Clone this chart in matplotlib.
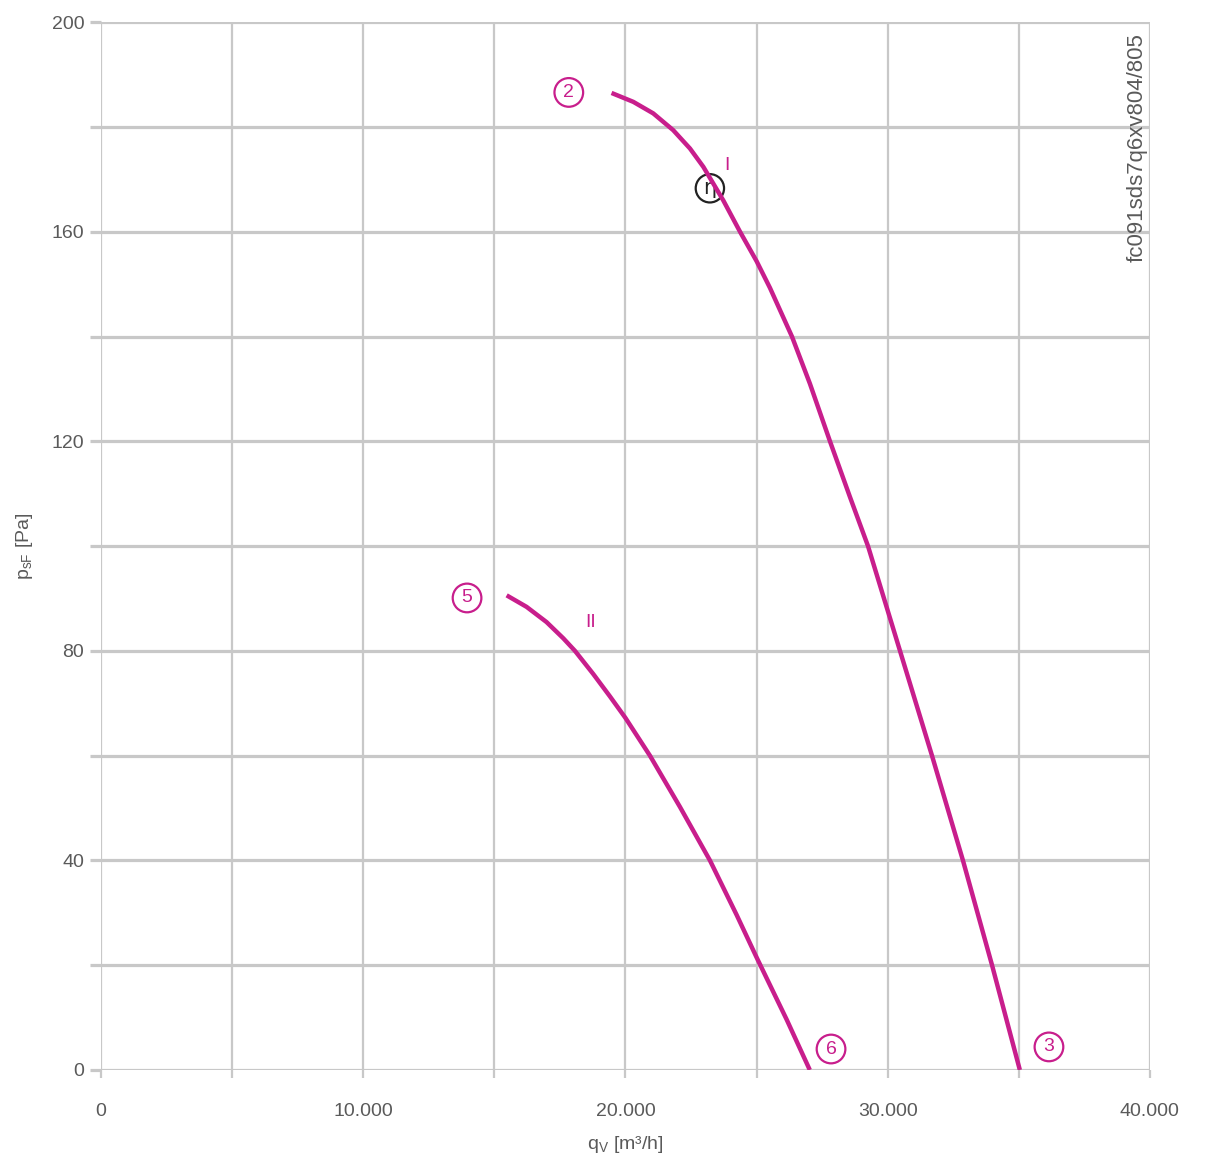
import matplotlib.pyplot as plt

plt.rcParams['font.family'] = ['Liberation Sans', 'DejaVu Sans']

# curve I
q1 = [19470, 20300, 21060, 21820, 22460, 22970, 23730, 24370, 25000, 25510, 26350,
      27035, 27800, 28560, 29250, 30470, 31690, 32870, 33980, 35040]
p1 = [186.5, 184.8, 182.6, 179.4, 175.9, 172.4, 166.0, 160, 154.4, 149.3, 140,
      131, 120, 109.4, 100, 80, 60, 40, 20, 0]

# curve II
q2 = [15470, 16230, 16990, 17630, 18075, 18770, 19410, 20000, 20934, 22080, 23222, 24240,
      25000, 26150, 27030]
p2 = [90.6, 88.4, 85.5, 82.4, 80, 75.6, 71.3, 67.2, 60, 50.2, 40, 29.6,
      21.5, 9.6, 0]

# labels: (text, x, y)
markers = [("2", 17840, 186.6), ("3", 36150, 4.4), ("5", 13960, 90.1), ("6", 27840, 4.0)]
curve_names = [("I", 23870, 172.7), ("II", 18680, 85.5)]
eta_pos = (23220, 168.3)

xticks = list(range(0, 40001, 5000))
yticks = list(range(0, 201, 20))

magenta = '#c81e8c'
grid = '#c8c8c8'
txt = '#5a5a5a'

fig = plt.figure(figsize=(12.18, 11.7), dpi=100)
ax = fig.add_axes([0.0829, 0.0855, 0.8612, 0.8955])

ax.set_xlim(0, 40000)
ax.set_ylim(0, 200)
ax.set_xticks(xticks)
ax.set_xticklabels([f"{v // 1000}.000" if v and v % 10000 == 0 else ("0" if v == 0 else "") for v in xticks])
ax.set_yticks(yticks)
ax.set_yticklabels([str(v) if v % 40 == 0 else "" for v in yticks])

for v in xticks:
    ax.axvline(v, color=grid, lw=1.6, zorder=1)
for v in yticks:
    ax.axhline(v, color=grid, lw=2.3, zorder=1)

for s in ax.spines.values():
    s.set_visible(False)

ax.tick_params(axis='y', length=8, width=2.3, color=grid, labelsize=14, labelcolor=txt, pad=4)
ax.tick_params(axis='x', length=6, width=1.6, color=grid, labelsize=14, labelcolor=txt, pad=18)

ax.plot(q1, p1, color=magenta, lw=3.2, zorder=3, solid_capstyle='butt', solid_joinstyle='round')
ax.plot(q2, p2, color=magenta, lw=3.2, zorder=3, solid_capstyle='butt', solid_joinstyle='round')

for t, x, y in markers:
    ax.text(x, y, t, color=magenta, fontsize=14, ha='center', va='center', zorder=4,
            bbox=dict(boxstyle='circle,pad=0.3', fc='none', ec=magenta, lw=1.6))
for t, x, y in curve_names:
    ax.text(x, y, t, color=magenta, fontsize=14, ha='center', va='center', zorder=4)
ax.text(eta_pos[0], eta_pos[1], 'η', color='#222222', fontsize=15, ha='center', va='center',
        zorder=2, family=['DejaVu Sans'],
        bbox=dict(boxstyle='circle,pad=0.2', fc='none', ec='#222222', lw=1.6))

ax.text(0.988, 0.99, 'fc091sds7q6xv804/805', rotation=90, transform=ax.transAxes,
        ha='center', va='top', fontsize=16, color=txt)

ax.set_xlabel('q$_\\mathregular{V}$ [m³/h]', fontsize=14, color=txt, labelpad=10)
ax.set_ylabel('p$_\\mathregular{sF}$ [Pa]', fontsize=14, color=txt, labelpad=12)

fig.savefig('out.png', dpi=100)
